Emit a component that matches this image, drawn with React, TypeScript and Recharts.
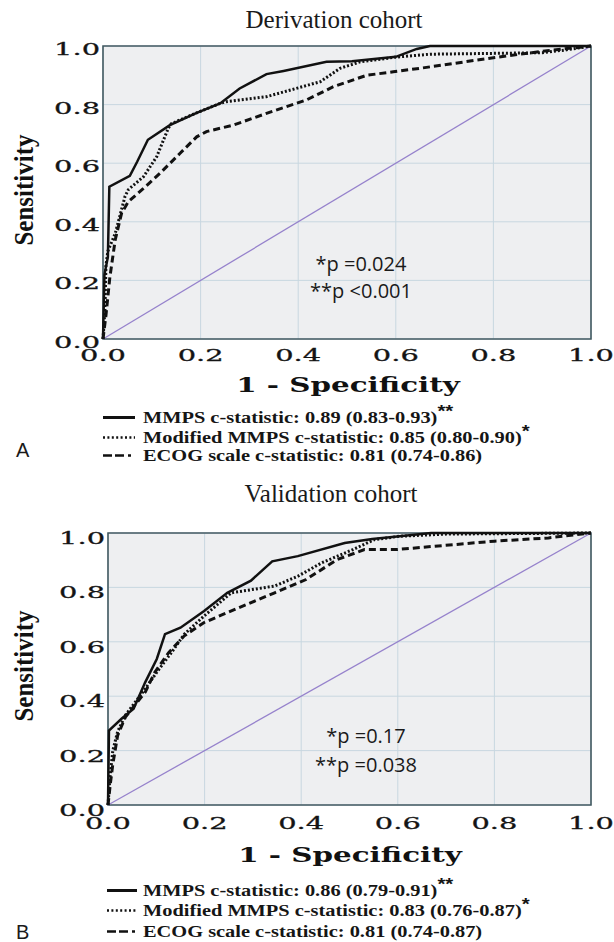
import React from "react";
import { LineChart, Line, XAxis, YAxis, CartesianGrid, ReferenceArea } from "recharts";

// axis ticks shared by both panels
const ticks = [0, 0.2, 0.4, 0.6, 0.8, 1.0];
const chanceFpr = [0, 1];
const chanceTpr = [0, 1];

// A - derivation cohort
const derivMmpsFpr = [0, 0.003, 0.01, 0.013, 0.055, 0.07, 0.092, 0.137, 0.192, 0.24, 0.28, 0.335, 0.37, 0.458, 0.51, 0.6, 0.643, 0.67, 1];
const derivMmpsTpr = [0, 0.22, 0.28, 0.52, 0.557, 0.605, 0.68, 0.73, 0.772, 0.804, 0.855, 0.904, 0.915, 0.946, 0.948, 0.963, 0.99, 1, 1];
const derivModFpr = [0, 0.004, 0.006, 0.01, 0.025, 0.045, 0.052, 0.083, 0.11, 0.134, 0.14, 0.192, 0.24, 0.253, 0.335, 0.404, 0.445, 0.486, 0.527, 0.6, 0.67, 0.9, 0.95, 1];
const derivModTpr = [0, 0.1, 0.25, 0.3, 0.36, 0.486, 0.51, 0.554, 0.622, 0.72, 0.735, 0.772, 0.804, 0.81, 0.827, 0.859, 0.878, 0.924, 0.946, 0.962, 0.972, 0.977, 0.987, 1];
const derivEcogFpr = [0, 0.006, 0.014, 0.025, 0.038, 0.052, 0.083, 0.117, 0.158, 0.192, 0.212, 0.267, 0.335, 0.417, 0.472, 0.54, 0.595, 0.65, 0.8, 0.91, 1];
const derivEcogTpr = [0, 0.08, 0.21, 0.338, 0.429, 0.469, 0.514, 0.566, 0.634, 0.69, 0.708, 0.73, 0.77, 0.816, 0.861, 0.9, 0.912, 0.924, 0.96, 0.984, 1];

// B - validation cohort
const validMmpsFpr = [0, 0.002, 0.028, 0.053, 0.077, 0.101, 0.118, 0.15, 0.199, 0.247, 0.296, 0.34, 0.393, 0.49, 0.547, 0.604, 0.669, 1];
const validMmpsTpr = [0, 0.274, 0.317, 0.354, 0.451, 0.537, 0.628, 0.652, 0.713, 0.78, 0.825, 0.896, 0.915, 0.963, 0.978, 0.988, 1, 1];
const validModFpr = [0, 0.004, 0.01, 0.02, 0.036, 0.077, 0.101, 0.134, 0.158, 0.199, 0.255, 0.345, 0.393, 0.442, 0.507, 0.552, 0.604, 0.7, 1];
const validModTpr = [0, 0.1, 0.2, 0.27, 0.33, 0.427, 0.488, 0.567, 0.628, 0.695, 0.78, 0.805, 0.841, 0.89, 0.939, 0.976, 0.988, 0.996, 1];
const validEcogFpr = [0, 0.005, 0.01, 0.02, 0.036, 0.077, 0.097, 0.126, 0.158, 0.199, 0.28, 0.345, 0.41, 0.474, 0.531, 0.596, 0.8, 0.912, 1];
const validEcogTpr = [0, 0.08, 0.15, 0.256, 0.323, 0.415, 0.488, 0.561, 0.622, 0.671, 0.732, 0.78, 0.829, 0.902, 0.939, 0.939, 0.97, 0.982, 1];

const derivLegend = [
  "MMPS c-statistic: 0.89 (0.83-0.93)",
  "Modified MMPS c-statistic: 0.85 (0.80-0.90)",
  "ECOG scale c-statistic: 0.81 (0.74-0.86)",
];
const validLegend = [
  "MMPS c-statistic: 0.86 (0.79-0.91)",
  "Modified MMPS c-statistic: 0.83 (0.76-0.87)",
  "ECOG scale c-statistic: 0.81 (0.74-0.87)",
];
const legendMarks = ["**", "*", ""];
const derivP = ["*p =0.024", "**p <0.001"];
const validP = ["*p =0.17", "**p =0.038"];

type Pt = { fpr: number; tpr: number };
const toPoints = (fpr: number[], tpr: number[]): Pt[] => fpr.map((x, i) => ({ fpr: x, tpr: tpr[i] }));

const W = 614;

interface Layout {
  height: number;
  left: number;
  top: number;
  right: number;
  bottom: number;
  titleY: number;
  titleX: number;
  xTickDy: number;
  yTickDy: number;
  xLabelX: number;
  xLabelY: number;
  yLabelY: number;
  pX: number;
  pY: number[];
  legendX1: number;
  legendX2: number;
  legendY: number[];
  letterY: number;
}

interface PanelProps {
  letter: string;
  title: string;
  pValues: string[];
  legend: string[];
  mmps: Pt[];
  modified: Pt[];
  ecog: Pt[];
  lay: Layout;
}

const serif = "'Liberation Serif', 'Times New Roman', serif";

const Panel = ({ letter, title, pValues, legend, mmps, modified, ecog, lay }: PanelProps) => {
  // the original tick font is very wide, so stretch DejaVu Serif horizontally
  const xTick = (p: any) => (
    <g transform={`translate(${p.x},${p.y + lay.xTickDy})`}>
      <text textAnchor="middle" transform="scale(1.7,1)" fontFamily="DejaVu Serif" fontSize={17} fill="#141414" stroke="#141414" strokeWidth={0.3}>
        {Number(p.payload.value).toFixed(1)}
      </text>
    </g>
  );
  const yTick = (p: any) => (
    <g transform={`translate(${p.x - 3},${p.y + lay.yTickDy})`}>
      <text textAnchor="end" transform="scale(1.7,1)" fontFamily="DejaVu Serif" fontSize={17} fill="#141414" stroke="#141414" strokeWidth={0.3}>
        {Number(p.payload.value).toFixed(1)}
      </text>
    </g>
  );
  const dashes = ["none", "2 2.4", "9 3 9 4 3 40"];

  return (
    <div style={{ position: "relative", width: W, height: lay.height }}>
      <LineChart
        width={W}
        height={lay.height}
        margin={{ top: lay.top, right: W - lay.right, left: lay.left - 60, bottom: lay.height - lay.bottom - 30 }}
      >
        <CartesianGrid fill="#eeeff1" stroke="#c8d7e0" strokeWidth={1} />
        <XAxis
          dataKey="fpr"
          type="number"
          domain={[0, 1]}
          ticks={ticks}
          interval={0}
          height={30}
          tickSize={0}
          tickMargin={0}
          axisLine={false}
          tickLine={false}
          tick={xTick}
        />
        <YAxis
          type="number"
          domain={[0, 1]}
          ticks={ticks}
          interval={0}
          width={60}
          tickSize={0}
          tickMargin={0}
          axisLine={false}
          tickLine={false}
          tick={yTick}
        />
        <ReferenceArea x1={0} x2={1} y1={0} y2={1} fill="none" fillOpacity={0} stroke="#435a61" strokeWidth={1.6} />
        <Line
          data={toPoints(chanceFpr, chanceTpr)}
          dataKey="tpr"
          type="linear"
          stroke="#9682cc"
          strokeWidth={1.3}
          dot={false}
          isAnimationActive={false}
        />
        <Line data={ecog} dataKey="tpr" type="linear" stroke="#111" strokeWidth={3} strokeDasharray="7 4" dot={false} isAnimationActive={false} />
        <Line data={modified} dataKey="tpr" type="linear" stroke="#111" strokeWidth={3} strokeDasharray="2 2" dot={false} isAnimationActive={false} />
        <Line data={mmps} dataKey="tpr" type="linear" stroke="#111" strokeWidth={2.5} dot={false} isAnimationActive={false} />
      </LineChart>
      <svg width={W} height={lay.height} style={{ position: "absolute", left: 0, top: 0, pointerEvents: "none" }}>
        <text x={lay.titleX} y={lay.titleY} textAnchor="middle" fontFamily={serif} fontSize={25} fill="#1a1a1a">
          {title}
        </text>
        <g transform={`translate(33,${lay.yLabelY}) rotate(-90)`}>
          <text textAnchor="middle" transform="scale(1,1.12)" fontFamily={serif} fontWeight="bold" fontSize={25} fill="#111">
            Sensitivity
          </text>
        </g>
        <g transform={`translate(${lay.xLabelX},${lay.xLabelY})`}>
          <text textAnchor="middle" transform="scale(1.47,1)" fontFamily="DejaVu Serif" fontWeight="bold" fontSize={20} fill="#111">
            1 - Specificity
          </text>
        </g>
        {pValues.map((s, i) => (
          <text key={s} x={lay.pX} y={lay.pY[i]} textAnchor="middle" fontFamily="'Open Sans', sans-serif" fontSize={20} fill="#1a1a1a">
            {s}
          </text>
        ))}
        {legend.map((s, i) => (
          <g key={s}>
            <line
              x1={lay.legendX1}
              x2={lay.legendX2}
              y1={lay.legendY[i] - 5.5}
              y2={lay.legendY[i] - 5.5}
              stroke="#111"
              strokeWidth={i === 0 ? 3 : 2.6}
              strokeDasharray={dashes[i]}
            />
            <g transform={`translate(143,${lay.legendY[i]})`}>
              <text transform="scale(1.2,1)" fontFamily={serif} fontWeight="bold" fontSize={17} fill="#151515">
                {s}
                {legendMarks[i] && (
                  <tspan dy={-6} fontFamily="'Liberation Sans', sans-serif" fontSize={17}>
                    {legendMarks[i]}
                  </tspan>
                )}
              </text>
            </g>
          </g>
        ))}
        <text x={16} y={lay.letterY} fontFamily="'Liberation Sans', Arial, sans-serif" fontSize={20} fill="#1a1a1a">
          {letter}
        </text>
      </svg>
    </div>
  );
};

const layoutA: Layout = {
  height: 470,
  left: 103,
  top: 46,
  right: 591,
  bottom: 339,
  titleY: 28,
  titleX: 334,
  xTickDy: 22,
  yTickDy: 9,
  xLabelX: 348,
  xLabelY: 392,
  yLabelY: 190,
  pX: 361,
  pY: [271, 298],
  legendX1: 103,
  legendX2: 135,
  legendY: [423, 443, 461],
  letterY: 457,
};

const layoutB: Layout = {
  height: 472,
  left: 108,
  top: 63,
  right: 591,
  bottom: 335,
  titleY: 32,
  titleX: 331,
  xTickDy: 24,
  yTickDy: 11,
  xLabelX: 350,
  xLabelY: 392,
  yLabelY: 196,
  pX: 366,
  pY: [273, 302],
  legendX1: 107,
  legendX2: 137,
  legendY: [426, 446, 467],
  letterY: 469,
};

export default function App() {
  return (
    <div style={{ position: "absolute", left: 0, top: 0, width: W, height: 942, background: "#fff" }}>
      <Panel
        letter="A"
        title="Derivation cohort"
        pValues={derivP}
        legend={derivLegend}
        mmps={toPoints(derivMmpsFpr, derivMmpsTpr)}
        modified={toPoints(derivModFpr, derivModTpr)}
        ecog={toPoints(derivEcogFpr, derivEcogTpr)}
        lay={layoutA}
      />
      <Panel
        letter="B"
        title="Validation cohort"
        pValues={validP}
        legend={validLegend}
        mmps={toPoints(validMmpsFpr, validMmpsTpr)}
        modified={toPoints(validModFpr, validModTpr)}
        ecog={toPoints(validEcogFpr, validEcogTpr)}
        lay={layoutB}
      />
    </div>
  );
}
